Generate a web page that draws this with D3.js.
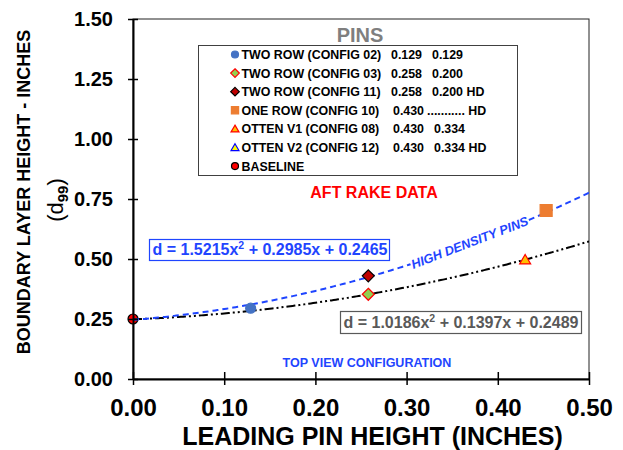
<!DOCTYPE html>
<html>
<head>
<meta charset="utf-8">
<script src="https://cdn.jsdelivr.net/npm/d3@7/dist/d3.min.js"></script>
<style>
  body { margin: 0; background: #fff; }
  svg { display: block; font-family: "Liberation Sans", Arial, sans-serif; }
</style>
</head>
<body>
<svg id="chart" width="623" height="450"></svg>
<script>
// ---- data ----
const configNames = [
  "TWO ROW (CONFIG 02)", "TWO ROW (CONFIG 03)", "TWO ROW (CONFIG 11)",
  "ONE ROW (CONFIG 10)", "OTTEN V1 (CONFIG 08)", "OTTEN V2 (CONFIG 12)", "BASELINE"
];
const pinHeightText = ["0.129", "0.258", "0.258", "0.430", "0.430", "0.430", ""];
const pinSpacingText = ["0.129", "0.200", "0.200 HD", "........... HD", "0.334", "0.334 HD", ""];
// measured points (leading pin height, boundary layer height); CONFIG 12 has no plotted point
const pinX = [0.129, 0.258, 0.258, 0.453, 0.430, null, 0.000];
const blY  = [0.295, 0.353, 0.430, 0.702, 0.497, null, 0.250];
// quadratic fits d = a x^2 + b x + c
const hdFit  = [1.5215, 0.2985, 0.2465];
const stdFit = [1.0186, 0.1397, 0.2489];
const xTicks = [0.00, 0.10, 0.20, 0.30, 0.40, 0.50];
const yTicks = [0.00, 0.25, 0.50, 0.75, 1.00, 1.25, 1.50];

// ---- marker styles per config ----
const markerStyles = [
  { shape: "circle",   fill: "#4472c4", stroke: "#4472c4" },
  { shape: "diamond",  fill: "#92d050", stroke: "#ff0000" },
  { shape: "diamond",  fill: "#c00000", stroke: "#000000" },
  { shape: "square",   fill: "#ed7d31", stroke: "#ed7d31" },
  { shape: "triangle", fill: "#ffc000", stroke: "#ff0000" },
  { shape: "triangle", fill: "#ffff00", stroke: "#0000ff" },
  { shape: "circle",   fill: "#ff0000", stroke: "#000000" }
];

function markerPath(shape, s) {
  if (shape === "circle") return d3.symbol(d3.symbolCircle, Math.PI * s * s)();
  if (shape === "square") return `M${-s},${-s}H${s}V${s}H${-s}Z`;
  if (shape === "diamond") return `M0,${-s * 1.2}L${s * 1.2},0L0,${s * 1.2}L${-s * 1.2},0Z`;
  if (shape === "triangle") return `M0,${-s * 1.05}L${s * 1.1},${s * 0.85}L${-s * 1.1},${s * 0.85}Z`;
}

const svg = d3.select("#chart");
const x = d3.scaleLinear().domain([0, 0.5]).range([133, 589]);
const y = d3.scaleLinear().domain([0, 1.5]).range([379, 19]);
const BLUE = "#1f45ff";

// plot frame
svg.append("rect")
  .attr("x", x(0)).attr("y", y(1.5))
  .attr("width", x(0.5) - x(0)).attr("height", y(0) - y(1.5))
  .attr("fill", "none").attr("stroke", "#222").attr("stroke-width", 1);

svg.append("clipPath").attr("id", "plotClip")
  .append("rect").attr("x", x(0)).attr("y", y(1.5))
  .attr("width", x(0.5) - x(0)).attr("height", y(0) - y(1.5));

// baseline marker sits under the trend lines
const plotPoints = configNames.map((n, i) => ({ i, x: pinX[i], y: blY[i] }))
  .filter(p => p.x !== null);

function drawMarker(sel, p, size) {
  const st = markerStyles[p.i];
  sel.append("path")
    .attr("transform", `translate(${x(p.x)},${y(p.y)})`)
    .attr("d", markerPath(st.shape, size))
    .attr("fill", st.fill).attr("stroke", st.stroke).attr("stroke-width", 1.2);
}

const markersBelow = svg.append("g");
plotPoints.filter(p => p.i === 6).forEach(p => drawMarker(markersBelow, p, 5));

// trend curves from the fitted equations
const fitX = d3.range(0, 0.5001, 0.0025);
const quad = c => v => c[0] * v * v + c[1] * v + c[2];
const line = f => d3.line().x(v => x(v)).y(v => y(f(v)));

const curves = svg.append("g").attr("clip-path", "url(#plotClip)");
curves.append("path").attr("d", line(quad(stdFit))(fitX))
  .attr("fill", "none").attr("stroke", "#000").attr("stroke-width", 2)
  .attr("stroke-dasharray", "9,3,2,3,2,3");
curves.append("path").attr("d", line(quad(hdFit))(fitX))
  .attr("fill", "none").attr("stroke", BLUE).attr("stroke-width", 2)
  .attr("stroke-dasharray", "6,4");

// label along the high-density curve
const hdLabel = svg.append("g").attr("transform", "translate(470,243.5) rotate(-21)");
hdLabel.append("rect").attr("x", -63).attr("y", -8).attr("width", 126).attr("height", 13).attr("fill", "#fff");
hdLabel.append("text").attr("x", 0).attr("y", 3.5)
  .attr("text-anchor", "middle").attr("fill", BLUE)
  .attr("font-size", 12.8).attr("font-weight", "bold").attr("font-style", "italic")
  .text("HIGH DENSITY PINS");

// data markers
const markers = svg.append("g");
plotPoints.filter(p => p.i !== 6).forEach(p => drawMarker(markers, p, p.i === 3 ? 6 : 5));

// axes
const yAxis = svg.append("g").attr("transform", `translate(${x(0)},0)`)
  .call(d3.axisLeft(y).tickValues(yTicks).tickFormat(d3.format(".2f"))
    .tickSize(5).tickSizeOuter(0).tickPadding(15));
yAxis.select(".domain").attr("stroke", "#000").attr("stroke-width", 2);
yAxis.selectAll(".tick line").attr("x1", 5).attr("x2", -5).attr("stroke", "#000").attr("stroke-width", 1.5);
yAxis.selectAll(".tick text").attr("font-size", 20).attr("font-weight", "bold")
  .attr("fill", "#000").attr("dy", "0.33em").attr("font-family", "Liberation Sans, Arial, sans-serif");

const xAxis = svg.append("g").attr("transform", `translate(0,${y(0)})`)
  .call(d3.axisBottom(x).tickValues(xTicks).tickFormat(d3.format(".2f"))
    .tickSize(6).tickSizeOuter(0).tickPadding(19));
xAxis.select(".domain").attr("stroke", "#000").attr("stroke-width", 2);
xAxis.selectAll(".tick line").attr("y1", -7).attr("y2", 6).attr("stroke", "#000").attr("stroke-width", 1.5);
xAxis.selectAll(".tick text").attr("font-size", 24).attr("font-weight", "bold")
  .attr("fill", "#000").attr("dy", "0.71em").attr("y", 19.5).attr("font-family", "Liberation Sans, Arial, sans-serif");

// axis titles
svg.append("text").attr("x", 372.5).attr("y", 445).attr("text-anchor", "middle")
  .attr("font-size", 25).attr("font-weight", "bold").text("LEADING PIN HEIGHT (INCHES)");

svg.append("text").attr("transform", "translate(30,192) rotate(-90)").attr("text-anchor", "middle")
  .attr("font-size", 18).attr("font-weight", "bold").text("BOUNDARY LAYER HEIGHT - INCHES");

const dLabel = svg.append("text").attr("transform", "translate(63,200) rotate(-90)")
  .attr("text-anchor", "middle").attr("font-size", 22);
dLabel.append("tspan").text("(d");
dLabel.append("tspan").attr("font-size", 15).attr("font-weight", "bold").attr("dy", 5).text("99");
dLabel.append("tspan").attr("dy", -5).text(")");

// legend
svg.append("text").attr("x", 360).attr("y", 41.5).attr("text-anchor", "middle")
  .attr("font-size", 20).attr("font-weight", "bold").attr("fill", "#7f7f7f").text("PINS");

const legend = svg.append("g");
legend.append("rect").attr("x", 198.5).attr("y", 45.5).attr("width", 319).attr("height", 130)
  .attr("fill", "#fff").attr("stroke", "#404040").attr("stroke-width", 1);
configNames.forEach((name, i) => {
  const cy = 54.5 + i * 18.6;
  const st = markerStyles[i];
  legend.append("path").attr("transform", `translate(235,${cy})`)
    .attr("d", markerPath(st.shape, st.shape === "circle" ? 3.5 : 3.6))
    .attr("fill", st.fill).attr("stroke", st.stroke).attr("stroke-width", 1.2);
  const t = legend.append("g").attr("font-size", 12.4).attr("font-weight", "bold");
  t.append("text").attr("x", 241.5).attr("y", cy + 4.4).text(name);
  t.append("text").attr("x", i >= 3 && i <= 5 ? 393 : 391).attr("y", cy + 4.4).text(pinHeightText[i]);
  t.append("text").attr("x", i === 3 ? 427 : (i >= 4 ? 434 : 432)).attr("y", cy + 4.4).text(pinSpacingText[i]);
});

svg.append("text").attr("x", 374).attr("y", 197.5).attr("text-anchor", "middle")
  .attr("font-size", 16).attr("font-weight", "bold").attr("fill", "#ff0000").text("AFT RAKE DATA");

// equation boxes
function eqBox(bx, by, bw, bh, color, coef) {
  const g = svg.append("g");
  g.append("rect").attr("x", bx).attr("y", by).attr("width", bw).attr("height", bh)
    .attr("fill", "#fff").attr("stroke", color).attr("stroke-width", 1.2);
  const t = g.append("text").attr("x", bx + 3).attr("y", by + bh - 5.5)
    .attr("font-size", 16).attr("font-weight", "bold").attr("fill", color);
  t.append("tspan").text(`d = ${coef[0].toFixed(4)}x`);
  t.append("tspan").attr("font-size", 10.5).attr("dy", -6).text("2");
  t.append("tspan").attr("dy", 6).text(` + ${coef[1].toFixed(4)}x + ${coef[2].toFixed(4)}`);
}
eqBox(149.5, 239.5, 240, 21, BLUE, hdFit);
eqBox(340.5, 311.5, 241, 22, "#595959", stdFit);

svg.append("text").attr("x", 367).attr("y", 367).attr("text-anchor", "middle")
  .attr("font-size", 12.5).attr("font-weight", "bold").attr("fill", BLUE).text("TOP VIEW CONFIGURATION");
</script>
</body>
</html>
